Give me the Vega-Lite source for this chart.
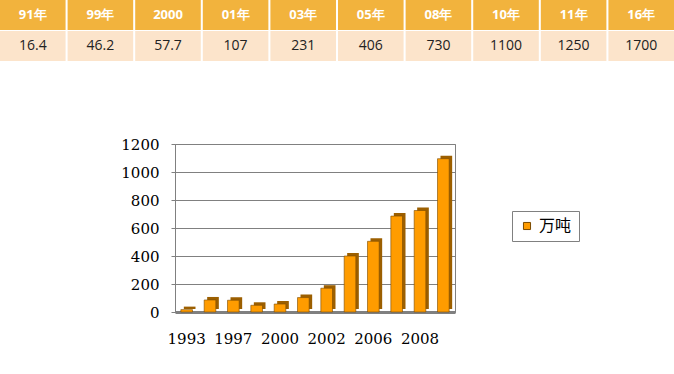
{
  "$schema": "https://vega.github.io/schema/vega-lite/v6.json",
  "padding": 0,
  "background": "white",
  "spacing": 75,
  "resolve": {"legend": {"color": "independent"}},
  "config": {"view": {"stroke": null}},
  "vconcat": [
    {
      "width": 674,
      "height": 61,
      "data": {"values": [
        {"label": "91年", "value": "16.4"},
        {"label": "99年", "value": "46.2"},
        {"label": "2000", "value": "57.7"},
        {"label": "01年", "value": "107"},
        {"label": "03年", "value": "231"},
        {"label": "05年", "value": "406"},
        {"label": "08年", "value": "730"},
        {"label": "10年", "value": "1100"},
        {"label": "11年", "value": "1250"},
        {"label": "16年", "value": "1700"}
      ]},
      "encoding": {
        "x": {"field": "label", "type": "nominal", "sort": null, "scale": {"paddingInner": 0.03, "paddingOuter": 0, "range": [-175, 499]}, "axis": null}
      },
      "layer": [
        {"mark": {"type": "rect", "color": "#F2B33D"},
         "encoding": {"y": {"datum": "h", "type": "nominal", "scale": {"domain": ["h", "v"], "paddingInner": 0.033, "paddingOuter": 0}, "axis": null}}},
        {"mark": {"type": "rect", "color": "#FCE4CB"},
         "encoding": {"y": {"datum": "v", "type": "nominal"}}},
        {"mark": {"type": "text", "color": "white", "font": "Open Sans", "fontSize": 13, "fontWeight": "bold"},
         "encoding": {"y": {"datum": "h", "type": "nominal"}, "text": {"field": "label"}}},
        {"mark": {"type": "text", "color": "#222222", "font": "Open Sans", "fontSize": 14},
         "encoding": {"y": {"datum": "v", "type": "nominal"}, "text": {"field": "value"}}}
      ]
    },
    {
      "width": 280,
      "height": 168,
      "view": {"stroke": "#808080"},
      "data": {"values": [
        {"year": "1993", "value": 17},
        {"year": "1995", "value": 86},
        {"year": "1997", "value": 84},
        {"year": "1999", "value": 48},
        {"year": "2000", "value": 57},
        {"year": "2001", "value": 103},
        {"year": "2002", "value": 170},
        {"year": "2004", "value": 400},
        {"year": "2006", "value": 505},
        {"year": "2007", "value": 685},
        {"year": "2008", "value": 725},
        {"year": "2010", "value": 1095}
      ]},
      "encoding": {
        "x": {"field": "year", "type": "ordinal", "sort": null,
              "scale": {"paddingInner": 0.5, "paddingOuter": 0.25},
              "axis": {"title": null, "labelAngle": 0, "ticks": false, "grid": false,
                       "labelExpr": "indexof(['1993','1997','2000','2002','2006','2008'], datum.label) >= 0 ? datum.label : ''",
                       "labelOverlap": false, "labelFont": "DejaVu Serif", "labelFontSize": 15, "labelColor": "#000000",
                       "labelPadding": 19, "domainColor": "#808080", "domainWidth": 3}},
        "y": {"field": "value", "type": "quantitative",
              "scale": {"domain": [0, 1200]},
              "axis": {"title": null, "values": [0, 200, 400, 600, 800, 1000, 1200], "format": "d",
                       "labelFont": "DejaVu Serif", "labelFontSize": 15, "labelColor": "#000000",
                       "labelPadding": 12, "tickSize": 4, "tickColor": "#808080",
                       "domainColor": "#808080", "gridColor": "#808080", "gridOpacity": 1}}
      },
      "layer": [
        {"mark": {"type": "bar", "color": "#9C5F00", "xOffset": 3, "yOffset": -3}},
        {"mark": {"type": "bar", "stroke": "#7A4A00", "strokeWidth": 0.6},
         "encoding": {"color": {"datum": "万吨", "type": "nominal",
                                "scale": {"range": ["#FF9C00"]},
                                "legend": {"title": null, "orient": "none", "legendX": 337, "legendY": 67,
                                           "strokeColor": "#808080", "fillColor": "white", "padding": 7,
                                           "symbolType": "square", "symbolSize": 50,
                                           "symbolStrokeColor": "#7A4A00", "symbolStrokeWidth": 1,
                                           "labelFont": "Noto Sans CJK SC", "labelFontSize": 16, "labelColor": "#000000"}}}}
      ]
    }
  ]
}
